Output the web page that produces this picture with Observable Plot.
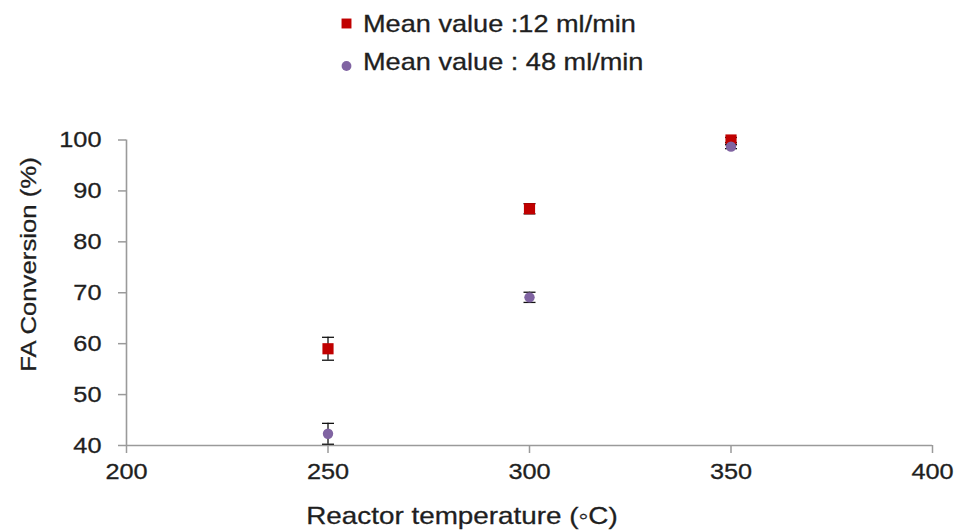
<!DOCTYPE html>
<html>
<head>
<meta charset="utf-8">
<script src="https://cdn.jsdelivr.net/npm/d3@7"></script>
<script src="https://cdn.jsdelivr.net/npm/@observablehq/plot@0.6"></script>
<style>
  html, body { margin: 0; padding: 0; background: #fff; }
  #chart { width: 958px; height: 531px; font-family: "Liberation Sans", Arial, sans-serif; color: #1f1f1f; }
  #chart svg { display: block; }
  #chart svg text { stroke: #1f1f1f; stroke-width: 0.3px; }
</style>
</head>
<body>
<div id="chart"></div>
<script>
// Reactor temperatures (°C) at which FA conversion was measured
const temperatures = [250, 300, 350];
// Mean FA conversion (%) and error half-widths at 12 ml/min
const conversion12 = [59.0, 86.5, 100.0];
const error12 = [2.25, 1.0, 0.5];
// Mean FA conversion (%) and error half-widths at 48 ml/min
const conversion48 = [42.3, 69.1, 98.7];
const error48 = [2.05, 1.0, 0.4];

const seriesNames = ["Mean value :12 ml/min", "Mean value : 48 ml/min"];
const seriesColors = ["#C00000", "#8064A2"];
const seriesSymbols = ["square", "circle"];
const seriesRadius = [6.3, 5.2];

const xTicks = [200, 250, 300, 350, 400];
const yTicks = [40, 50, 60, 70, 80, 90, 100];
const xTitle = "Reactor temperature (◦C)";
const yTitle = "FA Conversion (%)";

const FONT = '"Liberation Sans", Arial, sans-serif';
const TEXT = "#1f1f1f";
const AXIS = "#9a9a9a";

const series = [conversion12, conversion48].map((vals, s) =>
  vals.map((v, i) => ({
    series: seriesNames[s],
    temp: temperatures[i],
    value: v,
    err: [error12, error48][s][i]
  }))
);

// horizontal cap drawn at each end of an error bar
const capSymbol = {
  draw(context, size) {
    const h = Math.sqrt(size / Math.PI);
    context.moveTo(-h, 0);
    context.lineTo(h, 0);
  }
};

function seriesMarks(rows, s) {
  return [
    Plot.ruleX(rows, {x: "temp", y1: d => d.value - d.err, y2: d => d.value + d.err, stroke: "#111", strokeWidth: 1.3}),
    Plot.dot(rows, {x: "temp", y: d => d.value - d.err, symbol: capSymbol, r: 6, fill: "none", stroke: "#111", strokeWidth: 1.3}),
    Plot.dot(rows, {x: "temp", y: d => d.value + d.err, symbol: capSymbol, r: 6, fill: "none", stroke: "#111", strokeWidth: 1.3}),
    Plot.dot(rows, {x: "temp", y: "value", symbol: seriesSymbols[s], r: seriesRadius[s], fill: seriesColors[s], stroke: "none"})
  ];
}

// widen a text element along its own baseline, about its anchor point
function widen(t, k) {
  const tr = t.getAttribute("transform") || "";
  t.setAttribute("transform", `${tr} scale(${k},1)`);
}

// legend above the plot
const legend = d3.create("svg")
  .attr("width", 958)
  .attr("height", 90)
  .style("font-family", FONT);
const legendRows = [{cy: 23.5, base: 32}, {cy: 66, base: 70}];
seriesNames.forEach((name, s) => {
  const row = legendRows[s];
  const size = Math.PI * [5.6, 4.9][s] ** 2;
  legend.append("path")
    .attr("transform", `translate(346.5,${row.cy})`)
    .attr("d", d3.symbol(s === 0 ? d3.symbolSquare : d3.symbolCircle, size)())
    .attr("fill", seriesColors[s]);
  legend.append("text")
    .attr("transform", `translate(363,${row.base}) scale(1.18,1)`)
    .attr("font-size", 23)
    .attr("fill", TEXT)
    .text(name);
});

const plot = Plot.plot({
  width: 958,
  height: 441,
  marginLeft: 126,
  marginRight: 26,
  marginTop: 49.5,
  marginBottom: 86,
  x: {domain: [200, 400]},
  y: {domain: [40, 100]},
  style: {fontFamily: FONT, fontSize: "22px", color: TEXT, background: "#fff", overflow: "visible"},
  marks: [
    Plot.ruleX([xTicks[0]], {stroke: AXIS, strokeWidth: 1.6}),
    Plot.ruleY([yTicks[0]], {stroke: AXIS, strokeWidth: 1.6}),
    Plot.axisX({ticks: xTicks, tickSize: 8, tickPadding: 10, label: null, stroke: AXIS, strokeWidth: 1.5, fill: TEXT, fontSize: 22}),
    Plot.axisY({ticks: yTicks, tickSize: 8, tickPadding: 17, label: null, stroke: AXIS, strokeWidth: 1.5, fill: TEXT, fontSize: 22}),
    Plot.text([xTitle], {frameAnchor: "bottom", text: d => d, dx: -67.5, dy: 71, fontSize: 24, fill: TEXT, lineAnchor: "middle"}),
    Plot.text([yTitle], {frameAnchor: "left", text: d => d, rotate: -90, dx: -98, dy: -28.25, fontSize: 23, fill: TEXT, lineAnchor: "middle", textAnchor: "middle"}),
    ...series.flatMap((rows, s) => seriesMarks(rows, s))
  ]
});

plot.querySelectorAll('g[aria-label$="tick label"] text').forEach(t => widen(t, 1.15));
const titles = plot.querySelectorAll('g[aria-label="text"] text');
if (titles[0]) widen(titles[0], 1.16);
if (titles[1]) widen(titles[1], 1.12);

const root = document.getElementById("chart");
root.append(legend.node(), plot);
</script>
</body>
</html>
